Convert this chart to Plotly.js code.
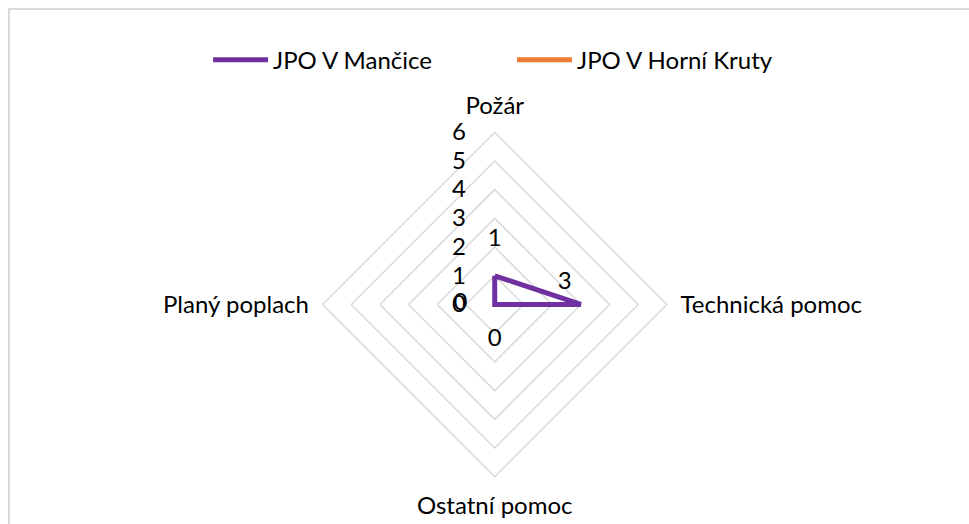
<!DOCTYPE html>
<html>
<head>
<meta charset="utf-8">
<script src="https://cdn.plot.ly/plotly-3.0.1.min.js"></script>
<style>
  html, body { margin: 0; padding: 0; background: #fff; overflow: hidden; }
  #frame { position: absolute; left: 8px; top: 8px; width: 961px; height: 516px;
           border-left: 2px solid #d9d9d9; border-top: 2px solid #d9d9d9; box-sizing: border-box; }
  #chart { position: absolute; left: 0; top: 0; width: 969px; height: 524px; }
</style>
</head>
<body>
<div id="frame"></div>
<div id="chart"></div>
<script>
// categories (axes of the radar)
var categories = ['Požár', 'Technická pomoc', 'Ostatní pomoc', 'Planý poplach'];

// series values
var mancice = [1, 3, 0, 0];
var horniKruty = [0, 0, 0, 0];

// radial ticks
var radialTicks = [0, 1, 2, 3, 4, 5, 6];

var fontFam = 'Lato, "Open Sans", sans-serif';
var grey = '#d9d9d9';

// close the polygon
function closeLoop(arr) { return arr.concat([arr[0]]); }

var trace1 = {
  type: 'scatterpolar',
  name: 'JPO V Mančice',
  r: closeLoop(mancice),
  theta: closeLoop(categories),
  mode: 'lines+markers+text',
  cliponaxis: true,
  text: mancice.map(String).concat(['']),
  textposition: ['top center', 'top left', 'bottom center', 'middle left', 'top center'],
  textfont: { family: fontFam, size: 24, color: '#000' },
  line: { color: '#7030a0', width: 5 },
  // invisible markers, only used to push the data labels away from the points
  marker: { size: [36, 13, 36, 42, 36], color: 'rgba(0,0,0,0)', line: { width: 0, color: 'rgba(0,0,0,0)' } },
  hoverinfo: 'skip'
};

var trace2 = {
  type: 'scatterpolar',
  name: 'JPO V Horní Kruty',
  r: closeLoop(horniKruty),
  theta: closeLoop(categories),
  mode: 'lines',
  cliponaxis: true,
  line: { color: '#ed7d31', width: 5 },
  hoverinfo: 'skip'
};

var data = [trace1, trace2];

var layout = {
  width: 969,
  height: 524,
  margin: { l: 0, r: 0, t: 0, b: 0 },
  paper_bgcolor: 'rgba(0,0,0,0)',
  plot_bgcolor: 'rgba(0,0,0,0)',
  font: { family: fontFam, size: 24, color: '#000' },
  showlegend: true,
  legend: {
    orientation: 'h',
    x: 0.2147, xanchor: 'left',
    y: 0.885, yanchor: 'middle',
    font: { family: fontFam, size: 24, color: '#000' },
    itemwidth: 55,
    entrywidth: 234
  },
  polar: {
    domain: { x: [0.3328, 0.6883], y: [0.0897, 0.7481] },
    bgcolor: 'rgba(0,0,0,0)',
    gridshape: 'linear',
    radialaxis: {
      range: [0, 6],
      tickvals: radialTicks,
      angle: 90,
      tickangle: 90,
      side: 'counterclockwise',
      showline: false,
      gridcolor: grey,
      gridwidth: 1.5,
      ticks: 'outside',
      ticklen: 20,
      tickcolor: 'rgba(0,0,0,0)',
      tickfont: { family: fontFam, size: 24, color: '#000' }
    },
    angularaxis: {
      direction: 'clockwise',
      rotation: 90,
      showgrid: false,
      showline: true,
      linecolor: grey,
      linewidth: 1.5,
      ticks: 'outside',
      ticklen: 8,
      tickcolor: 'rgba(0,0,0,0)',
      tickfont: { family: fontFam, size: 24, color: '#000' }
    }
  }
};

Plotly.newPlot('chart', data, layout, { staticPlot: true });
</script>
</body>
</html>
